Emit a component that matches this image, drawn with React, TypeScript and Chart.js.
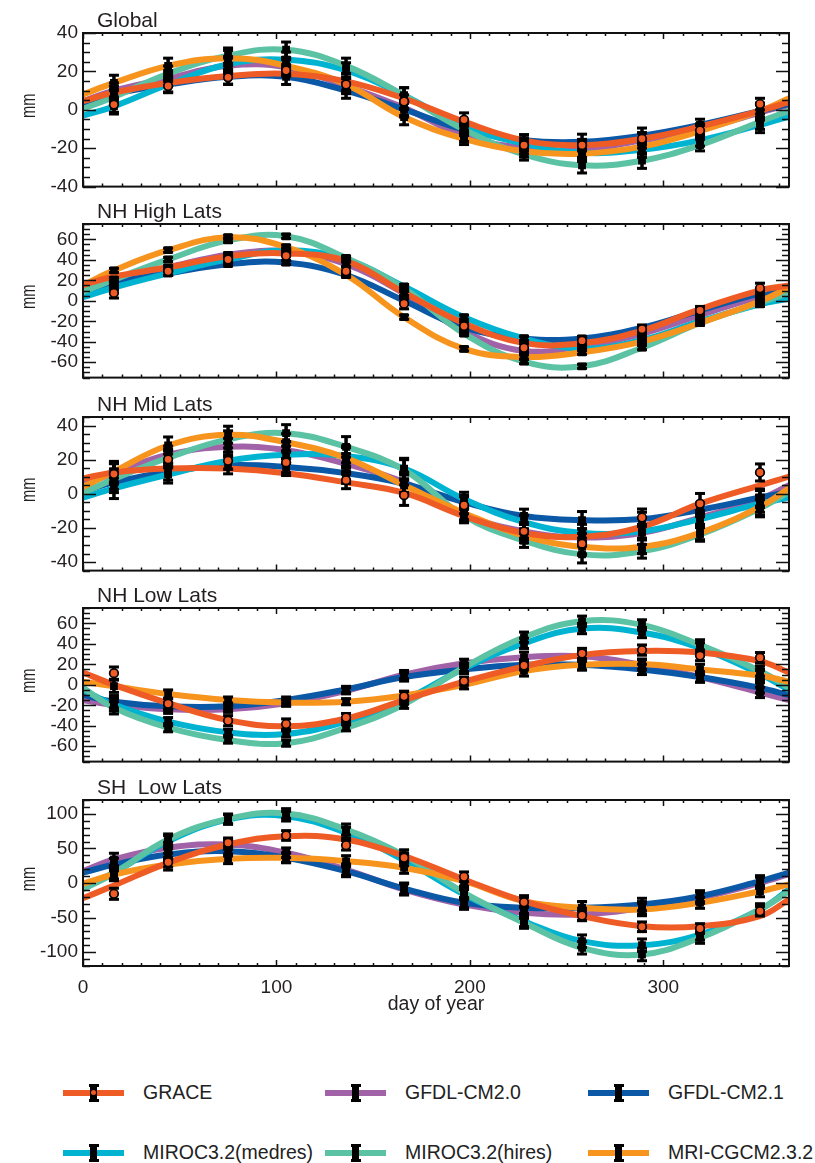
import React, { useEffect, useRef } from 'react';
import { Chart, registerables } from 'chart.js';

Chart.register(...registerables);

const FONT = "'Liberation Sans', Arial, Helvetica, sans-serif";
const TEXT = '#231f20';

// sample days for the fitted annual-cycle curves, and days of monthly observations
const curveDays = [0, 16, 44, 75, 105, 136, 166, 197, 228, 258, 289, 319, 350, 365];
const obsDays = [16, 44, 75, 105, 136, 166, 197, 228, 258, 289, 319, 350];

const seriesNames = ['GRACE', 'GFDL-CM2.0', 'GFDL-CM2.1', 'MIROC3.2(medres)', 'MIROC3.2(hires)', 'MRI-CGCM2.3.2'];
const seriesColors = ['#EF5B25', '#A262A8', '#0B58A6', '#00B3D1', '#5CC2A4', '#F7941E'];

const panelTitles = ['Global', 'NH High Lats', 'NH Mid Lats', 'NH Low Lats', 'SH  Low Lats'];
const yMins = [-40, -75, -45, -75, -120];
const yMaxs = [40, 75, 45, 75, 120];
const yMajor = [20, 20, 20, 20, 50];
const yMinor = [5, 5, 5, 5, 10];

// ---- Global
const globalGrace = [4.5, 9, 14, 17.6, 18.8, 14.8, 5.9, -6.2, -15.9, -18.4, -15.1, -8.7, -0.6, 4];
const globalGraceObs = [2.7, 12.4, 16.9, 20.5, 13.2, 4.3, -5.1, -18.4, -18.4, -15.1, -10.8, 3];
const globalGraceErr = [4, 3.5, 3.5, 3, 3, 3.5, 3.5, 3, 3, 3, 3, 3];
const globalCm20 = [4.5, 10, 16.4, 22.9, 22.1, 12.4, 1, -13.5, -20, -20.8, -15.9, -10.3, -1.4, 2.5];
const globalCm21 = [3.5, 8.3, 13.2, 17.2, 17.2, 10, 0.2, -10.3, -15.9, -16.7, -13.5, -7.9, -0.6, 3];
const globalMedres = [-3, 1.8, 13.2, 23.7, 26.1, 20.5, 7.5, -8.7, -17.6, -22.4, -20.8, -15.9, -7.9, -3.5];
const globalHires = [0.5, 6.7, 18.8, 28.2, 31.3, 22.9, 7.5, -10.3, -23.2, -28.9, -26.5, -18.4, -6.2, -0.5];
const globalMri = [8, 14, 22.9, 26.9, 22.9, 13.2, -3.8, -15.1, -21.6, -22.9, -19.2, -11.1, -0.6, 6];
const globalModelErr = [4, 4, 4, 4, 4, 4, 3, 3, 4, 4, 3, 4];

// ---- NH High Lats
const nhHighGrace = [15.5, 23.7, 32.7, 43.4, 46.3, 38.8, 8, -22, -41.3, -41.3, -29.2, -8.1, 10.1, 15];
const nhHighGraceObs = [7.7, 28.8, 40.4, 44, 28.8, -2.9, -24.7, -45.8, -38.9, -27.7, -9.5, 12.2];
const nhHighGraceErr = [5, 4, 4, 5, 4, 5, 4, 4, 4, 4, 4, 5];
const nhHighCm20 = [11, 20.7, 32.7, 44.9, 48.5, 35.8, 7.1, -30, -48.9, -44.4, -32.2, -14, 4.1, 10.5];
const nhHighCm21 = [9.5, 17.7, 26.8, 35.8, 37.3, 25.2, 0, -26, -36.7, -36.7, -26.2, -9.5, 7.1, 10.5];
const nhHighMedres = [3.5, 13, 26.8, 40.4, 49.4, 40.4, 14, -16, -36.7, -46.7, -38.3, -20.1, -3.5, 2];
const nhHighHires = [9, 20.7, 40.4, 59, 63, 41.8, 12, -32, -59.4, -64, -45.8, -21.7, -2, 8];
const nhHighMri = [15, 29.7, 49.4, 62.1, 52.4, 25.2, -16, -47, -54.9, -50.3, -39.8, -21.7, -0.5, 13];
const nhHighModelErr = [2, 2, 2, 2, 2, 2, 2, 2, 2, 2, 2, 2];

// ---- NH Mid Lats
const nhMidGrace = [9, 12.5, 14.8, 14.8, 12.1, 6.7, 0.5, -13, -22.9, -25.2, -19.3, -5.8, 5, 10];
const nhMidGraceObs = [11.6, 20.2, 19.4, 18.4, 8, -0.8, -6.7, -22, -29.2, -13.9, -5.8, 12.5];
const nhMidGraceErr = [6, 5, 5, 6, 5, 6, 5, 5, 6, 5, 6, 5];
const nhMidCm20 = [5.5, 12.1, 22.9, 27.5, 25.6, 17.5, 6.7, -12.1, -22, -25.6, -22.9, -13.9, -3.1, 5];
const nhMidCm21 = [1.3, 6.7, 13, 16.7, 15.7, 12.1, 5.9, -4.9, -13, -15.4, -14.8, -9.4, -2.2, 1.3];
const nhMidMedres = [-2.2, 3.2, 11.3, 19.4, 22.9, 22.1, 14.8, -3.1, -16.6, -22.9, -22, -14.8, -5.8, -2.2];
const nhMidHires = [0.5, 8.6, 21.1, 31.9, 35.5, 27.5, 14, -13, -27.4, -35.5, -33.7, -23.8, -8.5, 1];
const nhMidMri = [4, 13, 28.3, 34.6, 30.2, 21, 5, -11.2, -24.7, -31, -31, -22.9, -7.6, 3.2];
const nhMidModelErr = [6, 5, 5, 5, 6, 6, 4, 4, 5, 4, 4, 5];

// ---- NH Low Lats
const nhLowGrace = [12, 0, -18, -34.5, -40.5, -32.9, -14.9, 3.1, 18, 29.2, 33, 31.5, 23.1, 12];
const nhLowGraceObs = [11.4, -18.5, -35.1, -38.3, -32, -11.3, 3.6, 18.9, 30.6, 33.9, 28.5, 26.5];
const nhLowGraceErr = [6, 5, 5, 5, 4, 5, 4, 4, 5, 5, 5, 5];
const nhLowCm20 = [-15, -19.4, -23.9, -23.9, -18, -5.9, 10, 21, 27, 27.9, 19.5, 7.6, -7.5, -15];
const nhLowCm21 = [-10, -16.5, -21, -21, -14.9, -4.5, 7.6, 15, 19.5, 19.5, 15, 7.6, -3, -10];
const nhLowMedres = [-5, -19.4, -36, -46.4, -48, -36, -15, 16, 40.5, 54.9, 51, 36, 10.5, -5];
const nhLowHires = [-3, -22.5, -41.9, -54, -57, -42, -19, 17, 46.5, 62.1, 58.5, 39, 13.5, -3];
const nhLowMri = [3, -1.4, -9, -14.9, -17.4, -16.5, -10.4, 0, 13.5, 19.5, 20.2, 15, 9, 3];
const nhLowModelErr = [6, 4, 3, 3, 3, 4, 4, 5, 5, 5, 5, 5];

// ---- SH Low Lats
const shLowGrace = [-22, -3.6, 29.2, 55.7, 67.7, 62.9, 39, 5.1, -26.3, -48, -62.5, -62.5, -48, -24];
const shLowGraceObs = [-15.6, 30.1, 58.1, 68.7, 54.6, 36.4, 9, -27.8, -47, -63.3, -65.8, -40.8];
const shLowGraceErr = [8, 7, 7, 7, 7, 7, 7, 7, 7, 7, 7, 7];
const shLowCm20 = [17, 34, 50.9, 55.7, 43.7, 19.5, -9.4, -31.1, -43.1, -45.5, -35.9, -21.4, 0.3, 13];
const shLowCm21 = [15, 26.7, 41.2, 46, 36.4, 17.1, -8, -28.6, -35.9, -35.9, -31.1, -19.1, 2.6, 15];
const shLowMedres = [-6, 15, 60.4, 91.8, 96.6, 72.6, 33, -16.6, -55.2, -84.1, -89.9, -74.5, -38.3, -9.4];
const shLowHires = [-9, 14, 62.9, 92.8, 100.5, 77.3, 40, -14.2, -57.5, -93.7, -103.4, -79.2, -38.3, -11.9];
const shLowMri = [-1, 12.3, 26.7, 35, 36.4, 31.5, 22, 2.6, -26.3, -35.9, -38.3, -28.6, -11.9, -2];
const shLowModelErr = [9, 8, 7, 7, 8, 8, 7, 8, 9, 9, 8, 8];

const panelCurves = [
  [globalGrace, globalCm20, globalCm21, globalMedres, globalHires, globalMri],
  [nhHighGrace, nhHighCm20, nhHighCm21, nhHighMedres, nhHighHires, nhHighMri],
  [nhMidGrace, nhMidCm20, nhMidCm21, nhMidMedres, nhMidHires, nhMidMri],
  [nhLowGrace, nhLowCm20, nhLowCm21, nhLowMedres, nhLowHires, nhLowMri],
  [shLowGrace, shLowCm20, shLowCm21, shLowMedres, shLowHires, shLowMri],
];
const panelGraceObs = [globalGraceObs, nhHighGraceObs, nhMidGraceObs, nhLowGraceObs, shLowGraceObs];
const panelGraceErr = [globalGraceErr, nhHighGraceErr, nhMidGraceErr, nhLowGraceErr, shLowGraceErr];
const panelModelErr = [globalModelErr, nhHighModelErr, nhMidModelErr, nhLowModelErr, shLowModelErr];

// layout (page pixels)
const PLOT_TOPS = [33, 224, 417, 608, 800];
const PLOT_H = 166;
const TOP_PAD = 33;
const Y_AXIS_W = 83;
const RIGHT_PAD = 26;
const X_AXIS_H = 50;

function PanelChart({ idx }: { idx: number }) {
  const ref = useRef<HTMLCanvasElement>(null);
  const isLast = idx === 4;
  const h = TOP_PAD + PLOT_H + (isLast ? X_AXIS_H : 4);
  const top = PLOT_TOPS[idx] - TOP_PAD;

  useEffect(() => {
    const curves = panelCurves[idx];
    const datasets: any[] = [];
    const lineOrder = [1, 2, 3, 4, 5, 0];
    lineOrder.forEach((si, k) => {
      datasets.push({
        type: 'line',
        label: seriesNames[si],
        data: curveDays.map((d, i) => ({ x: d, y: curves[si][i] })),
        borderColor: seriesColors[si],
        borderWidth: 6,
        pointRadius: 0,
        tension: 0.4,
        fill: false,
        order: 100 - k,
        drawErrorsAfter: k === lineOrder.length - 1,
      });
    });
    for (let si = 1; si <= 5; si++) {
      datasets.push({
        type: 'line',
        label: seriesNames[si] + ' obs',
        showLine: false,
        data: obsDays.map((d, i) => ({ x: d, y: curves[si][i + 1] })),
        pointStyle: 'rect',
        pointRadius: 5.5,
        backgroundColor: '#000',
        borderColor: '#000',
        borderWidth: 0,
        order: 10,
        errors: panelModelErr[idx],
      });
    }
    datasets.push({
      type: 'line',
      label: 'GRACE obs',
      showLine: false,
      data: obsDays.map((d, i) => ({ x: d, y: panelGraceObs[idx][i] })),
      pointStyle: 'circle',
      pointRadius: 4.3,
      backgroundColor: seriesColors[0],
      borderColor: '#000',
      borderWidth: 1.7,
      order: 1,
      errors: panelGraceErr[idx],
    });

    const errorBars = {
      id: 'errorBars',
      afterDatasetDraw(chart: any, args: any) {
        const ds = chart.data.datasets[args.index];
        if (!ds.drawErrorsAfter) return;
        const ctx = chart.ctx;
        const xs = chart.scales.x;
        const ys = chart.scales.y;
        ctx.save();
        ctx.fillStyle = '#000';
        chart.data.datasets.forEach((d: any) => {
          if (!d.errors) return;
          d.data.forEach((pt: any, i: number) => {
            const e = d.errors[i];
            const px = xs.getPixelForValue(pt.x);
            const yT = ys.getPixelForValue(pt.y + e);
            const yB = ys.getPixelForValue(pt.y - e);
            ctx.fillRect(px - 1.75, yT, 3.5, yB - yT);
            ctx.fillRect(px - 5, yT - 1.5, 10, 3);
            ctx.fillRect(px - 5, yB - 1.5, 10, 3);
          });
        });
        ctx.restore();
      },
    };

    const frame = {
      id: 'frame',
      afterDraw(chart: any) {
        const ctx = chart.ctx;
        const { left, right, top: t, bottom } = chart.chartArea;
        const xs = chart.scales.x;
        const ys = chart.scales.y;
        ctx.save();
        ctx.strokeStyle = '#111';
        ctx.lineWidth = 1.5;
        ctx.beginPath();
        const mn = yMins[idx], mx = yMaxs[idx];
        for (let v = Math.ceil(mn / yMinor[idx]) * yMinor[idx]; v <= mx; v += yMinor[idx]) {
          const y = Math.round(ys.getPixelForValue(v)) + 0.5;
          const len = v % yMajor[idx] === 0 ? 13 : 7;
          ctx.moveTo(left, y); ctx.lineTo(left + len, y);
          ctx.moveTo(right, y); ctx.lineTo(right - len, y);
        }
        for (let d = 0; d <= 365; d += 10) {
          const x = Math.round(xs.getPixelForValue(d)) + 0.5;
          const len = d % 100 === 0 ? 6 : 3;
          ctx.moveTo(x, bottom); ctx.lineTo(x, bottom - len);
          ctx.moveTo(x, t); ctx.lineTo(x, t + len);
        }
        ctx.stroke();
        ctx.lineWidth = 2;
        ctx.strokeRect(left, t, right - left, bottom - t);
        // panel title
        ctx.fillStyle = TEXT;
        ctx.font = `21px ${FONT}`;
        ctx.textAlign = 'left';
        ctx.textBaseline = 'alphabetic';
        ctx.fillText(panelTitles[idx], 97, t - 6);
        // y title
        ctx.translate(29, (t + bottom) / 2 - 4);
        ctx.rotate(-Math.PI / 2);
        ctx.scale(0.7, 1);
        ctx.font = `21px ${FONT}`;
        ctx.textAlign = 'center';
        ctx.textBaseline = 'middle';
        ctx.fillText('mm', 0, 0);
        ctx.restore();
      },
    };

    const chart = new Chart(ref.current as HTMLCanvasElement, {
      type: 'line',
      data: { datasets },
      options: {
        responsive: false,
        maintainAspectRatio: false,
        animation: false,
        events: [],
        layout: { padding: { top: TOP_PAD, right: RIGHT_PAD, bottom: isLast ? 0 : 4, left: 0 } },
        plugins: { legend: { display: false }, tooltip: { enabled: false } },
        scales: {
          x: {
            type: 'linear',
            min: 0,
            max: 365,
            display: isLast,
            grid: { display: false, drawTicks: false },
            border: { display: false },
            ticks: {
              stepSize: 100,
              includeBounds: false,
              autoSkip: false,
              maxRotation: 0,
              padding: 10,
              color: TEXT,
              font: { family: FONT, size: 19 },
            },
            title: {
              display: isLast,
              text: 'day of year',
              color: TEXT,
              font: { family: FONT, size: 19.5 },
              padding: { top: 0, bottom: 0 },
            },
            afterFit: (s: any) => { s.height = isLast ? X_AXIS_H : 0; },
          },
          y: {
            type: 'linear',
            min: yMins[idx],
            max: yMaxs[idx],
            grid: { display: false, drawTicks: false },
            border: { display: false },
            ticks: {
              stepSize: yMajor[idx],
              includeBounds: false,
              autoSkip: false,
              padding: 5,
              color: TEXT,
              font: { family: FONT, size: 19 },
            },
            afterFit: (s: any) => { s.width = Y_AXIS_W; },
          },
        },
      } as any,
      plugins: [errorBars, frame],
    });
    return () => chart.destroy();
  }, [idx]);

  return (
    <canvas
      ref={ref}
      width={815}
      height={h}
      style={{ position: 'absolute', left: 0, top, width: 815, height: h }}
    />
  );
}

const legendCols = [63, 325, 588];
const legendRows = [1092.5, 1152.5];

function Legend() {
  return (
    <>
      {seriesNames.map((name, i) => {
        const x0 = legendCols[i % 3];
        const yc = legendRows[Math.floor(i / 3)];
        const mx = x0 + 30.5;
        return (
          <React.Fragment key={name}>
            <div style={{ position: 'absolute', left: x0, top: yc - 3, width: 61, height: 6, background: seriesColors[i] }} />
            <div style={{ position: 'absolute', left: mx - 3.5, top: yc - 9, width: 7, height: 18, background: '#000' }} />
            <div style={{ position: 'absolute', left: mx - 5, top: yc - 9, width: 10, height: 3, background: '#000' }} />
            <div style={{ position: 'absolute', left: mx - 5, top: yc + 6, width: 10, height: 3, background: '#000' }} />
            {i === 0 && (
              <div style={{ position: 'absolute', left: mx - 2.5, top: yc - 2.5, width: 5, height: 5, borderRadius: 3, background: seriesColors[0] }} />
            )}
            <div
              style={{
                position: 'absolute',
                left: x0 + 80,
                top: yc - 9.8,
                font: `19.5px ${FONT}`,
                lineHeight: '19.5px',
                color: '#222',
                whiteSpace: 'nowrap',
              }}
            >
              {name}
            </div>
          </React.Fragment>
        );
      })}
    </>
  );
}

export default function App() {
  return (
    <div style={{ position: 'relative', width: 815, height: 1163, background: '#fff', overflow: 'hidden' }}>
      <style>{'body{margin:0;background:#fff;}'}</style>
      {[0, 1, 2, 3, 4].map((i) => (
        <PanelChart key={i} idx={i} />
      ))}
      <Legend />
    </div>
  );
}
